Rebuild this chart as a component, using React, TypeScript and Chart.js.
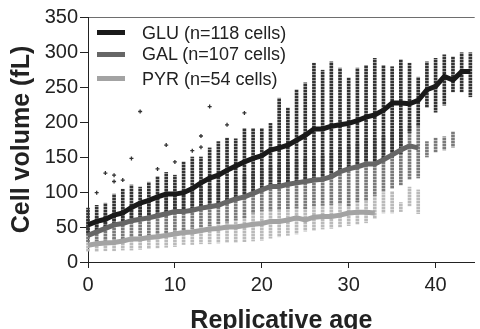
import React, { useEffect, useRef } from 'react';
import { Chart, registerables } from 'chart.js';

Chart.register(...registerables);

// Replicative age categories
const AGES = [0,1,2,3,4,5,6,7,8,9,10,11,12,13,14,15,16,17,18,19,20,21,22,23,24,25,26,27,28,29,30,31,32,33,34,35,36,37,38,39,40,41,42,43,44];

// Median cell volume (fL) per age
const GLU_MEDIAN = [53,58,61,67,70,78,84,88,93,97,97,99,105,113,120,124,131,137,143,148,152,160,163,167,174,181,190,190,194,196,198,202,207,210,217,227,227,226,231,246,251,265,260,272,272];
const GAL_MEDIAN = [38,43,48,53,55,59,61,63,66,69,72,72,74,77,79,81,86,90,93,98,103,108,108,111,113,115,117,118,122,129,133,136,140,140,146,153,160,166,163];
const PYR_MEDIAN = [24,26,27,28,30,33,33,35,36,38,40,42,43,45,47,48,50,50,52,54,55,58,58,60,63,60,64,65,65,67,70,71,71,70];

// Visible extent of each column of single-cell dots (fL)
const GLU_LOW  = [40,45,50,55,57,61,63,65,68,71,74,74,76,79,81,83,88,92,95,100,105,110,110,113,115,117,119,120,124,131,135,138,142,140,145,150,155,185,195,221,214,224,243,243,236];
const GLU_HIGH = [77,81,84,97,104,110,107,114,122,128,124,143,150,150,163,172,177,176,191,191,191,198,234,220,246,256,284,274,286,277,263,277,281,291,281,279,289,284,264,286,291,296,293,299,299];
const GAL_LOW  = [29,30,31,32,33,35,37,38,40,42,44,46,48,50,52,55,57,60,63,70,73,74,75,76,77,76,80,81,82,84,80,86,88,95,100,105,110,118,120,150,157,160,164];
const GAL_HIGH = [60,65,70,75,78,82,85,88,92,95,98,100,103,106,109,112,116,120,124,128,133,138,140,143,146,148,150,152,156,162,166,170,174,176,180,186,190,195,196,172,177,179,186];
const PYR_LOW  = [15,15,16,16,17,17,18,19,20,21,22,25,25,26,26,27,28,28,29,30,31,34,36,38,40,44,45,47,48,50,52,54,56,62,70,70,72,80,69];
const PYR_HIGH = [31,32,33,34,35,37,39,40,42,44,46,48,50,52,54,57,59,62,65,72,75,76,77,78,79,78,82,83,84,86,82,88,90,96,98,101,85,107,103];

// Isolated GLU cells above the dense columns
const GLU_OUT_AGE = [1,2,3,3,4,5,6,8,9,10,12,13,13,14,16,18];
const GLU_OUT_VAL = [99,127,115,124,117,148,215,133,167,143,159,164,180,222,196,213];

const LEGEND = [
  { label: 'GLU (n=118 cells)', color: '#1a1a1a', y: 32.5 },
  { label: 'GAL (n=107 cells)', color: '#666666', y: 54 },
  { label: 'PYR (n=54 cells)', color: '#a3a3a3', y: 78.5 },
];

const FONT = '"Liberation Sans", Arial, sans-serif';

function makePattern(color: string): CanvasPattern | string {
  const c = document.createElement('canvas');
  c.width = 1;
  c.height = 3;
  const g = c.getContext('2d');
  if (!g) return color;
  g.fillStyle = color;
  g.fillRect(0, 0, 1, 2);
  g.globalAlpha = 0.5;
  g.fillRect(0, 2, 1, 1);
  return g.createPattern(c, 'repeat') || color;
}

function band(low: number[], high: number[]) {
  return low.map((lo, i) => ({ x: AGES[i], y: [lo, high[i]] }));
}

function line(vals: number[]) {
  return vals.map((v, i) => ({ x: AGES[i], y: v }));
}

export default function App() {
  const ref = useRef<HTMLCanvasElement | null>(null);

  useEffect(() => {
    document.body.style.margin = '0';
    const canvas = ref.current;
    if (!canvas) return;

    const bandCommon = {
      type: 'bar' as const,
      barThickness: 3,
      grouped: false,
      borderWidth: 0,
      borderSkipped: false,
      clip: false as any,
    };
    const lineCommon = {
      type: 'line' as const,
      borderWidth: 5,
      pointRadius: 0,
      tension: 0,
      fill: false,
      borderJoinStyle: 'miter' as const,
      clip: false as any,
    };

    const chart = new Chart(canvas, {
      type: 'bar',
      data: {
        datasets: [
          { ...lineCommon, label: 'GLU', data: line(GLU_MEDIAN), borderColor: '#1a1a1a', order: 0 },
          { ...lineCommon, label: 'GAL', data: line(GAL_MEDIAN), borderColor: '#666666', order: 1 },
          { ...lineCommon, label: 'PYR', data: line(PYR_MEDIAN), borderColor: '#a3a3a3', order: 2 },
          {
            type: 'scatter',
            label: 'GLU outliers',
            data: GLU_OUT_AGE.map((a, i) => ({ x: a, y: GLU_OUT_VAL[i] })),
            pointStyle: 'cross',
            pointRadius: 2,
            borderWidth: 1.3,
            borderColor: '#333333',
            backgroundColor: '#333333',
            order: 3,
            clip: false as any,
          } as any,
          { ...bandCommon, label: 'GLU cells', data: band(GLU_LOW, GLU_HIGH), backgroundColor: makePattern('#333333'), order: 4 } as any,
          { ...bandCommon, label: 'GAL cells', data: band(GAL_LOW, GAL_HIGH), backgroundColor: makePattern('#7a7a7a'), order: 5 } as any,
          { ...bandCommon, label: 'PYR cells', data: band(PYR_LOW, PYR_HIGH), backgroundColor: makePattern('#bababa'), order: 6 } as any,
        ] as any,
      },
      options: {
        responsive: false,
        animation: false,
        devicePixelRatio: 1,
        layout: { padding: { top: 17, right: 0, left: 0, bottom: 0 } },
        plugins: { legend: { display: false }, tooltip: { enabled: false } },
        scales: {
          x: {
            type: 'linear',
            min: 0,
            max: 44.5,
            offset: false,
            ticks: {
              stepSize: 10,
              includeBounds: false,
              color: '#222',
              padding: 5,
              maxRotation: 0,
              font: { family: FONT, size: 20 },
            },
            grid: {
              display: true,
              offset: false,
              drawOnChartArea: false,
              drawTicks: true,
              tickLength: 6,
              tickColor: '#222',
            },
            border: { display: true, color: '#222', width: 1 },
            title: {
              display: true,
              text: 'Replicative age',
              color: '#222',
              padding: 0,
              font: { family: FONT, size: 25, weight: 'bold', lineHeight: 0.64 },
            },
            afterFit: (s: any) => { s.height = 67; },
          },
          y: {
            min: 0,
            max: 350,
            ticks: {
              stepSize: 50,
              color: '#222',
              padding: 2,
              font: { family: FONT, size: 20 },
            },
            grid: {
              display: true,
              drawOnChartArea: true,
              drawTicks: true,
              tickLength: 8,
              tickColor: '#222',
              color: (ctx: any) => (ctx.tick && ctx.tick.value === 350 ? '#6e6e6e' : 'rgba(0,0,0,0)'),
            },
            border: { display: true, color: '#222', width: 1 },
            title: {
              display: true,
              text: 'Cell volume (fL)',
              color: '#222',
              padding: { top: 7, bottom: 0 },
              font: { family: FONT, size: 25, weight: 'bold' },
            },
            afterFit: (s: any) => { s.width = 88; },
          },
        },
      } as any,
    });

    return () => chart.destroy();
  }, []);

  return (
    <div style={{ position: 'relative', width: 480, height: 329, overflow: 'hidden' }}>
      <canvas ref={ref} width={480} height={329} style={{ width: 480, height: 329, display: 'block' }} />
      {LEGEND.map((l) => (
        <React.Fragment key={l.label}>
          <div
            style={{
              position: 'absolute',
              left: 97,
              top: l.y - 2.5,
              width: 28,
              height: 5,
              background: l.color,
            }}
          />
          <div
            style={{
              position: 'absolute',
              left: 142,
              top: l.y - 11,
              font: `18px ${FONT}`,
              lineHeight: '22px',
              color: '#222',
              whiteSpace: 'nowrap',
            }}
          >
            {l.label}
          </div>
        </React.Fragment>
      ))}
    </div>
  );
}
